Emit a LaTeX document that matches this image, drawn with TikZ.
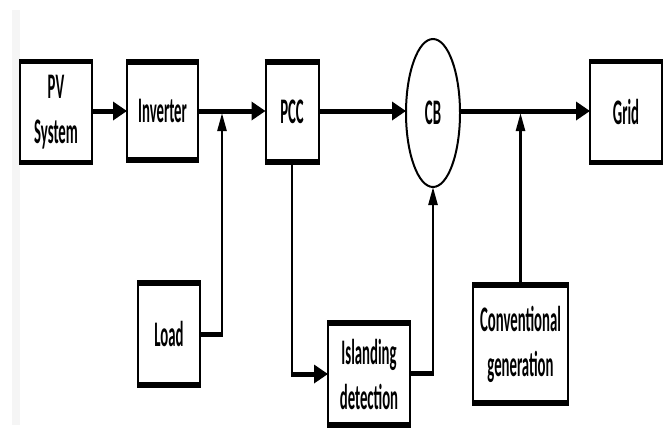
\documentclass[tikz,border=0pt]{standalone}
\usepackage{fontspec}
\newfontfamily\lbl[FakeStretch=0.41]{Carlito}
\usetikzlibrary{arrows.meta,shapes.geometric}
\tikzset{
  blk/.style={draw=none, outer sep=0pt, inner sep=0pt, align=center,
    font=\lbl\bfseries\fontsize{36}{45}\selectfont},
  hl/.style={line width=5pt},
  vl/.style={line width=2.5pt},
  harr/.style={-{Triangle[length=14pt,width=18pt]}},
  varr/.style={-{Triangle[length=18pt,width=9pt]}},
}
\begin{document}
\begin{tikzpicture}[x=1pt,y=-1pt]
\useasboundingbox (0,0) rectangle (668,432);
\fill[black!4] (12,10) rectangle (20,425);
% nodes
\node[blk, minimum width=72pt, minimum height=101pt] (pv) at (56,112) {PV\\System};
\node[blk, minimum width=71pt, minimum height=98pt] (inv) at (162.5,111) {Inverter};
\node[blk, minimum width=53pt, minimum height=100pt] (pcc) at (292,112) {PCC};
\node[ellipse, draw, line width=2pt, minimum width=54pt, minimum height=148pt, inner sep=0pt, outer sep=0pt,
  font=\lbl\bfseries\fontsize{36}{45}\selectfont] (cb) at (433,113) {CB};
\node[blk, minimum width=72pt, minimum height=101pt] (grid) at (626,112) {Grid};
\node[blk, minimum width=62pt, minimum height=102pt] (load) at (169,334) {Load};
\node[blk, minimum width=82pt, minimum height=102pt] (isl) at (369,374) {Islanding\\detection};
\node[blk, minimum width=95pt, minimum height=118pt] (conv) at (520.5,344) {Conventional\\generation};
% borders
\foreach \n in {pv,inv,pcc,grid,load,isl,conv}{
  \draw[line width=2pt] (\n.north west) rectangle (\n.south east);
  \draw[line width=5.5pt] ([xshift=-1pt]\n.north west) -- ([xshift=1pt]\n.north east);
  \draw[line width=5.5pt] ([xshift=-1pt]\n.south west) -- ([xshift=1pt]\n.south east);
}
% junctions
\coordinate (j1) at (222,111);
\coordinate (j2) at (520.5,111);
\coordinate (lc) at (222,334);
\coordinate (ic) at (292,374);
\coordinate (cc) at (433,373);
% main line
\draw[hl,harr] (pv.east |- j1) -- (inv.west |- j1);
\draw[hl,harr] (inv.east |- j1) -- (pcc.west |- j1);
\draw[hl,harr] (pcc.east |- j1) -- (cb.west |- j1);
\draw[hl,harr] (cb.east |- j1) -- (grid.west |- j1);
% load
\draw[hl] (load.east) -- ([xshift=1.25pt]lc);
\draw[vl,varr] (lc) -- ([yshift=-2pt]j1);
% islanding
\draw[vl] (pcc.south) -- ([yshift=-1pt]ic);
\draw[hl,harr] ([xshift=-1.25pt]ic) -- (isl.west);
\draw[hl] (isl.east |- cc) -- ([xshift=1.25pt]cc);
\draw[vl,varr] (cc) -- (cb.south);
% conventional
\draw[vl,varr] (conv.north) -- ([yshift=-2pt]j2);
\end{tikzpicture}
\end{document}
